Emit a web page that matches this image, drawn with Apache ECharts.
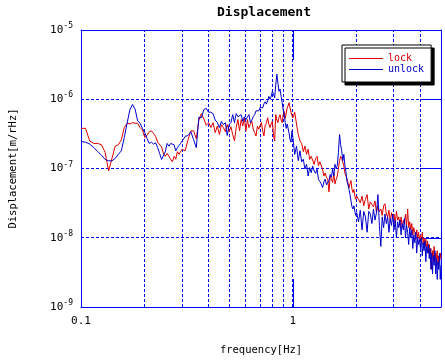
<!DOCTYPE html>
<html>
<head>
<meta charset="utf-8">
<script src="https://cdn.jsdelivr.net/npm/echarts@6/dist/echarts.min.js"></script>
<style>html,body{margin:0;padding:0;background:#fff}#c{width:445px;height:361px}</style>
</head>
<body>
<div id="c"></div>
<script>
// ---- data ----
const freq = [
  0.1,0.105,0.11,0.115,0.12,0.125,0.13,0.135,0.14,0.145,0.15,0.155,0.16,0.165,0.17,0.175,0.18,0.185,0.19,0.195,
  0.2,0.205,0.21,0.215,0.22,0.225,0.23,0.235,0.24,0.245,0.25,0.255,0.26,0.265,0.27,0.275,0.28,0.285,0.29,0.295,0.3,
  0.31,0.32,0.33,0.34,0.35,0.36,0.37,0.38,0.39,0.4,
  0.41,0.42,0.43,0.44,0.45,0.46,0.47,0.48,0.49,0.5,
  0.51,0.52,0.53,0.54,0.55,0.56,0.57,0.58,0.59,0.6,
  0.61,0.62,0.63,0.64,0.65,0.66,0.67,0.68,0.69,0.7,
  0.71,0.72,0.73,0.74,0.75,0.76,0.77,0.78,0.79,0.8,
  0.81,0.82,0.83,0.84,0.85,0.86,0.87,0.88,0.89,0.9,
  0.91,0.92,0.93,0.94,0.95,0.96,0.97,0.98,0.99,1.0,
  1.02,1.04,1.06,1.08,1.1,1.12,1.14,1.16,1.18,1.2,
  1.22,1.24,1.26,1.28,1.3,1.32,1.34,1.36,1.38,1.4,
  1.42,1.44,1.46,1.48,1.5,1.52,1.54,1.56,1.58,1.6,
  1.62,1.64,1.66,1.68,1.7,1.72,1.74,1.76,1.78,1.8,
  1.82,1.84,1.86,1.88,1.9,1.92,1.94,1.96,1.98,2.0,
  2.04,2.08,2.12,2.16,2.2,2.24,2.28,2.32,2.36,
  2.4,2.44,2.48,2.52,2.56,2.6,2.64,2.68,2.72,2.76,
  2.8,2.84,2.88,2.92,2.96,3.0,3.04,3.08,3.12,3.16,
  3.2,3.24,3.28,3.32,3.36,3.4,3.44,3.48,3.52,3.56,
  3.6,3.64,3.68,3.72,3.76,3.8,3.84,3.88,3.92,3.96,
  4.0,4.04,4.08,4.12,4.16,4.2,4.24,4.28,4.32,4.36,
  4.4,4.44,4.48,4.52,4.56,4.6,4.64,4.68,4.72,4.76,4.8,4.84,4.88,4.92,4.96,5.0
];
const lock = [
  3.8e-7,3.8e-7,2.5e-7,2.3e-7,2.3e-7,2.2e-7,1.7e-7,9.2e-8,1.4e-7,2.1e-7,2.2e-7,2.6e-7,3.9e-7,4.5e-7,4.4e-7,4.6e-7,4.5e-7,4.5e-7,3.9e-7,3.6e-7,
  2.8e-7,3.0e-7,3.4e-7,3.5e-7,3.2e-7,2.9e-7,2.4e-7,2.5e-7,2.05e-7,1.65e-7,1.5e-7,1.65e-7,1.5e-7,1.35e-7,1.25e-7,1.5e-7,1.36e-7,1.75e-7,1.6e-7,1.75e-7,1.9e-7,
  1.8e-7,2.6e-7,3.5e-7,3.5e-7,2.7e-7,5.0e-7,6.2e-7,5.2e-7,4.2e-7,4.6e-7,
  3.9e-7,4.6e-7,3.3e-7,4.1e-7,3.1e-7,4.3e-7,3.9e-7,3.4e-7,4.3e-7,3.4e-7,
  4.0e-7,3.1e-7,2.5e-7,3.9e-7,5.1e-7,3.5e-7,5.1e-7,4.1e-7,5.4e-7,3.5e-7,
  5.1e-7,3.9e-7,4.4e-7,4.8e-7,3.7e-7,3.3e-7,2.95e-7,4.1e-7,3.7e-7,3.5e-7,
  4.6e-7,3.5e-7,2.95e-7,4.2e-7,4.5e-7,5.4e-7,4.4e-7,3.9e-7,4.4e-7,4.8e-7,
  3.0e-7,2.5e-7,6.0e-7,5.0e-7,4.6e-7,5.5e-7,6.0e-7,5.0e-7,4.6e-7,6.0e-7,
  6.7e-7,5.3e-7,5.6e-7,7.5e-7,8.0e-7,8.9e-7,7.5e-7,6.5e-7,5.8e-7,5.4e-7,
  6.5e-7,4.4e-7,3.1e-7,2.5e-7,2.3e-7,1.75e-7,2.1e-7,1.6e-7,1.9e-7,1.35e-7,
  1.5e-7,1.6e-7,1.15e-7,1.4e-7,1.5e-7,1.1e-7,1.25e-7,1.3e-7,9.8e-8,7.8e-8,
  8.6e-8,7.5e-8,7.0e-8,4.6e-8,7.8e-8,7.0e-8,6.3e-8,8.5e-8,6.0e-8,7.0e-8,
  7.8e-8,1.0e-7,1.3e-7,1.5e-7,1.4e-7,1.4e-7,1.09e-7,8.5e-8,7.8e-8,7.2e-8,
  7.0e-8,5.3e-8,6.0e-8,6.7e-8,5.0e-8,4.5e-8,5.0e-8,4.0e-8,3.6e-8,4.0e-8,
  3.6e-8,3.2e-8,4.0e-8,2.9e-8,3.6e-8,4.2e-8,2.6e-8,3.3e-8,3.0e-8,
  2.8e-8,3.4e-8,2.3e-8,2.9e-8,2.4e-8,2.6e-8,2.1e-8,2.9e-8,3.1e-8,2.2e-8,
  2.0e-8,2.5e-8,1.7e-8,2.3e-8,1.9e-8,2.2e-8,1.6e-8,2.4e-8,1.8e-8,2.0e-8,
  1.5e-8,2.0e-8,1.4e-8,1.8e-8,1.6e-8,2.2e-8,1.5e-8,2.6e-8,1.4e-8,1.7e-8,
  1.3e-8,1.6e-8,1.1e-8,1.4e-8,1.2e-8,9.5e-9,1.3e-8,1.0e-8,1.2e-8,9.0e-9,
  1.1e-8,8.5e-9,1.2e-8,8.0e-9,1.0e-8,7.5e-9,9.5e-9,7.0e-9,9.0e-9,6.0e-9,
  8.0e-9,5.5e-9,7.0e-9,3.5e-9,6.5e-9,5.0e-9,7.5e-9,4.5e-9,6.0e-9,5.0e-9,6.5e-9,4.0e-9,5.5e-9,4.5e-9,6.0e-9,5.0e-9
];
const unlock = [
  2.45e-7,2.4e-7,2.25e-7,2.0e-7,1.75e-7,1.55e-7,1.35e-7,1.29e-7,1.29e-7,1.4e-7,1.6e-7,1.8e-7,2.8e-7,4.5e-7,7.0e-7,8.4e-7,7.2e-7,4.9e-7,4.5e-7,3.8e-7,
  3.3e-7,2.7e-7,2.3e-7,2.4e-7,2.25e-7,2.35e-7,2.0e-7,1.65e-7,1.35e-7,1.4e-7,1.75e-7,2.3e-7,2.1e-7,2.3e-7,2.45e-7,2.2e-7,1.8e-7,2.0e-7,2.15e-7,2.3e-7,2.4e-7,
  2.9e-7,3.0e-7,3.4e-7,2.6e-7,2.0e-7,5.5e-7,5.4e-7,7.1e-7,7.4e-7,6.5e-7,
  6.5e-7,6.2e-7,5.0e-7,4.6e-7,3.9e-7,4.8e-7,4.3e-7,4.6e-7,3.0e-7,4.3e-7,
  4.6e-7,6.0e-7,4.6e-7,6.2e-7,5.6e-7,5.3e-7,6.0e-7,4.8e-7,5.6e-7,5.1e-7,
  5.4e-7,6.0e-7,4.6e-7,5.0e-7,5.6e-7,6.0e-7,6.8e-7,6.9e-7,6.8e-7,7.6e-7,
  7.8e-7,7.5e-7,8.6e-7,9.2e-7,8.5e-7,9.5e-7,1.1e-6,1.0e-6,1.1e-6,1.3e-6,
  1.2e-6,1.05e-6,1.6e-6,2.3e-6,1.7e-6,1.3e-6,1.4e-6,1.1e-6,9.0e-7,7.0e-7,
  6.0e-7,4.6e-7,3.8e-7,4.4e-7,4.6e-7,3.2e-7,2.6e-7,2.4e-7,3.5e-7,2.8e-7,
  1.6e-7,2.1e-7,1.3e-7,1.8e-7,1.25e-7,1.36e-7,9.8e-8,1.15e-7,7.8e-8,1.03e-7,
  8.7e-8,1.08e-7,9.2e-8,8.5e-8,9.8e-8,7.0e-8,6.5e-8,6.0e-8,5.3e-8,6.4e-8,
  7.0e-8,5.8e-8,5.6e-8,6.7e-8,8.2e-8,7.5e-8,9.8e-8,7.8e-8,1.15e-7,1.0e-7,
  1.1e-7,1.7e-7,3.1e-7,2.2e-7,1.8e-7,1.3e-7,1.6e-7,1.1e-7,9.0e-8,6.5e-8,
  5.8e-8,5.0e-8,4.2e-8,3.4e-8,2.8e-8,2.6e-8,2.9e-8,2.4e-8,2.1e-8,2.3e-8,
  1.7e-8,2.5e-8,1.3e-8,2.4e-8,2.0e-8,1.2e-8,2.4e-8,2.2e-8,1.6e-8,
  2.6e-8,1.8e-8,2.3e-8,4.2e-8,1.5e-8,7.5e-9,2.0e-8,1.4e-8,2.2e-8,1.6e-8,
  2.0e-8,1.2e-8,1.9e-8,1.5e-8,2.2e-8,1.3e-8,1.8e-8,1.0e-8,1.7e-8,1.4e-8,
  1.8e-8,1.1e-8,1.6e-8,1.3e-8,1.9e-8,1.0e-8,1.5e-8,1.2e-8,8.0e-9,1.4e-8,
  1.0e-8,1.3e-8,7.0e-9,1.1e-8,8.5e-9,1.2e-8,6.0e-9,1.0e-8,8.0e-9,9.5e-9,
  7.0e-9,1.0e-8,5.5e-9,8.5e-9,6.5e-9,9.0e-9,4.5e-9,7.5e-9,6.0e-9,8.0e-9,
  5.0e-9,7.0e-9,3.5e-9,6.0e-9,3.0e-9,5.5e-9,4.0e-9,6.5e-9,3.0e-9,5.0e-9,2.5e-9,4.5e-9,3.5e-9,6.0e-9,2.5e-9,4.0e-9
];
const seriesNames = ['lock', 'unlock'];
const xTickValues = [0.1, 1];
const xTickLabels = ['0.1', '1'];
const xGridLines = [0.2, 0.3, 0.4, 0.5, 0.6, 0.7, 0.8, 0.9, 1, 2, 3, 4];
const yGridLines = [1e-6, 1e-7, 1e-8];
const xRange = [0.1, 5];
const yRange = [1e-9, 1e-5];

// ---- chart ----
const FONT = 'DejaVu Sans Mono';
const GRIDBLUE = '#0000ff';
const RED = '#dd0000';
const BLUE = '#0000cc';
const zip = vals => freq.map((f, i) => [f, vals[i]]);
const xLabel = v => {
  for (let i = 0; i < xTickValues.length; i++) if (Math.abs(v - xTickValues[i]) < 1e-9) return xTickLabels[i];
  return '';
};
const yLabel = v => '{b|10}{e|' + Math.round(Math.log10(v)) + '}';
const crisp = v => Math.floor(v) + 0.5;
const gridStyle = () => ({stroke: GRIDBLUE, lineWidth: 1, lineDash: [3, 2], fill: null});

const chart = echarts.init(document.getElementById('c'), null, {renderer: 'canvas'});
chart.setOption({
  animation: false,
  backgroundColor: '#fff',
  title: {
    text: 'Displacement', left: 259, top: 1, textAlign: 'center',
    textStyle: {fontFamily: FONT, fontWeight: 'bold', fontSize: 13, color: '#000'}
  },
  legend: {
    orient: 'vertical', left: 342, top: 45,
    padding: [8, 7, 7, 7], itemGap: 0, itemWidth: 34, itemHeight: 1,
    backgroundColor: '#fff', borderColor: '#000', borderWidth: 1,
    shadowColor: '#000', shadowBlur: 0, shadowOffsetX: 3, shadowOffsetY: 3,
    textStyle: {fontFamily: FONT, fontSize: 10, lineHeight: 11},
    data: [
      {name: seriesNames[0], icon: 'rect', itemStyle: {color: RED}, textStyle: {color: RED}},
      {name: seriesNames[1], icon: 'rect', itemStyle: {color: BLUE}, textStyle: {color: BLUE}}
    ]
  },
  grid: {left: 80, top: 30, right: 4, bottom: 53, containLabel: false},
  xAxis: [{
    type: 'log', logBase: 10, min: xRange[0], max: xRange[1], interval: 1,
    position: 'bottom',
    name: 'frequency[Hz]', nameLocation: 'middle', nameGap: 38,
    nameTextStyle: {fontFamily: FONT, fontSize: 10.5, color: '#000'},
    axisLine: {show: true, lineStyle: {color: GRIDBLUE, width: 1}},
    axisTick: {show: true, inside: true, length: 28, lineStyle: {color: GRIDBLUE, width: 1}},
    axisLabel: {formatter: xLabel, fontFamily: FONT, fontSize: 11, color: '#000', margin: 9, showMaxLabel: false},
    splitLine: {show: false}
  }, {
    type: 'log', logBase: 10, min: xRange[0], max: xRange[1], interval: 1,
    position: 'top',
    axisLine: {show: true, lineStyle: {color: GRIDBLUE, width: 1}},
    axisTick: {show: true, inside: true, length: 30, lineStyle: {color: GRIDBLUE, width: 1}},
    axisLabel: {show: false},
    splitLine: {show: false}
  }],
  yAxis: [{
    type: 'log', logBase: 10, min: yRange[0], max: yRange[1], interval: 1,
    position: 'left',
    name: 'Displacement[m/rHz]', nameLocation: 'middle', nameGap: 62, nameRotate: 90,
    nameTextStyle: {fontFamily: FONT, fontSize: 10.5, color: '#000'},
    axisLine: {show: true, lineStyle: {color: GRIDBLUE, width: 1}},
    axisTick: {show: false},
    axisLabel: {
      formatter: yLabel, margin: 8, color: '#000',
      rich: {
        b: {fontFamily: FONT, fontSize: 11, color: '#000'},
        e: {fontFamily: FONT, fontSize: 8, color: '#000', padding: [0, 0, 8, 0]}
      }
    },
    splitLine: {show: false}
  }, {
    type: 'log', logBase: 10, min: yRange[0], max: yRange[1], interval: 1,
    position: 'right',
    axisLine: {show: true, lineStyle: {color: GRIDBLUE, width: 1}},
    axisTick: {show: true, inside: true, length: 21, lineStyle: {color: GRIDBLUE, width: 1}},
    axisLabel: {show: false},
    splitLine: {show: false}
  }],
  series: [
    {
      name: '_vgrid', type: 'custom', xAxisIndex: 0, yAxisIndex: 0, z: 1, silent: true,
      data: xGridLines.map(v => [v, yRange[0]]),
      renderItem: (params, api) => {
        const a = api.coord([api.value(0), yRange[0]]);
        const b = api.coord([api.value(0), yRange[1]]);
        const x = crisp(a[0]);
        return {type: 'line', shape: {x1: x, y1: a[1], x2: x, y2: b[1]}, style: gridStyle()};
      }
    },
    {
      name: '_hgrid', type: 'custom', xAxisIndex: 0, yAxisIndex: 0, z: 1, silent: true,
      data: yGridLines.map(v => [xRange[0], v]),
      renderItem: (params, api) => {
        const a = api.coord([xRange[0], api.value(1)]);
        const b = api.coord([xRange[1], api.value(1)]);
        const y = crisp(a[1]);
        return {type: 'line', shape: {x1: a[0], y1: y, x2: b[0], y2: y}, style: gridStyle()};
      }
    },
    {
      name: seriesNames[0], type: 'line', z: 3, data: zip(lock),
      symbol: 'none', showSymbol: false, color: RED,
      lineStyle: {color: RED, width: 1}
    },
    {
      name: seriesNames[1], type: 'line', z: 4, data: zip(unlock),
      symbol: 'none', showSymbol: false, color: BLUE,
      lineStyle: {color: BLUE, width: 1}
    }
  ]
});
</script>
</body>
</html>
